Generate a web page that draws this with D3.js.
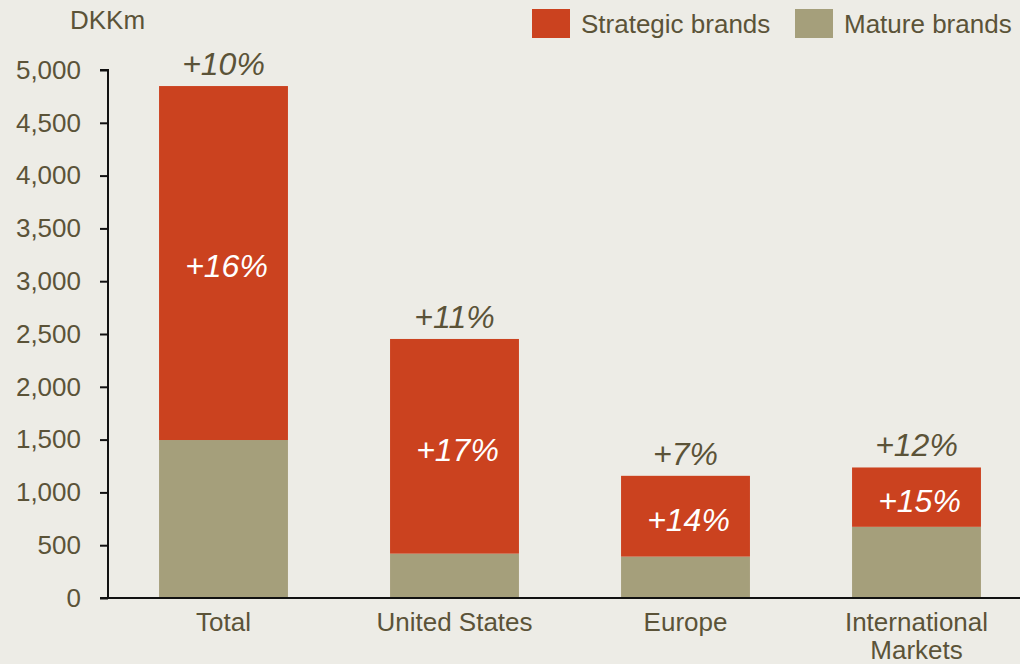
<!DOCTYPE html>
<html>
<head>
<meta charset="utf-8">
<script src="https://cdn.jsdelivr.net/npm/d3@7"></script>
<style>
  body { margin: 0; background: #edece6; }
  svg { display: block; font-family: "Liberation Sans", Arial, sans-serif; }
</style>
</head>
<body>
<svg id="chart" width="1020" height="664"></svg>
<script>
// sales by region, DKKm
const regions = ['Total', 'United States', 'Europe', 'International Markets']
const mature = [1496, 420, 392, 674]
const strategic = [3352, 2033, 765, 562]   // stacked on top of mature
const totalGrowth = ['+10%', '+11%', '+7%', '+12%']
const strategicGrowth = ['+16%', '+17%', '+14%', '+15%']
const yTicks = [0, 500, 1000, 1500, 2000, 2500, 3000, 3500, 4000, 4500, 5000]

const textCol = '#5b5338',
    redCol = '#cb421f',
    greyCol = '#a59f7b'

let svg = d3.select('#chart')

let x = d3.scaleBand().domain(regions).range([108, 1032])
        .paddingInner(0.442).paddingOuter(0.221),
    y = d3.scaleLinear().domain([0, 5000]).range([598, 70])

let rows = regions.map((r, i) => ({
    name: r, mature: mature[i], strategic: strategic[i],
    g1: totalGrowth[i], g2: strategicGrowth[i]
}))

// bars
let g = svg.append('g')
g.selectAll('rect.mature')
    .data(rows)
    .join('rect')
    .attr('class', 'mature')
    .attr('x', d => x(d.name))
    .attr('width', x.bandwidth())
    .attr('y', d => y(d.mature))
    .attr('height', d => y(0) - y(d.mature))
    .attr('fill', greyCol)

g.selectAll('rect.strategic')
    .data(rows)
    .join('rect')
    .attr('class', 'strategic')
    .attr('x', d => x(d.name))
    .attr('width', x.bandwidth())
    .attr('y', d => y(d.mature + d.strategic))
    .attr('height', d => y(d.mature) - y(d.mature + d.strategic))
    .attr('fill', redCol)

// growth labels
g.selectAll('text.total')
    .data(rows)
    .join('text')
    .attr('x', d => x(d.name) + x.bandwidth() / 2)
    .attr('y', d => y(d.mature + d.strategic) - 11)
    .attr('text-anchor', 'middle')
    .style('font-size', '32px')
    .style('font-style', 'italic')
    .style('fill', textCol)
    .text(d => d.g1)

g.selectAll('text.inner')
    .data(rows)
    .join('text')
    .attr('x', d => x(d.name) + x.bandwidth() / 2 + 3)
    .attr('y', d => (y(d.mature) + y(d.mature + d.strategic)) / 2)
    .attr('dy', '0.45em')
    .attr('text-anchor', 'middle')
    .style('font-size', '32px')
    .style('font-style', 'italic')
    .style('fill', '#fff')
    .text(d => d.g2)

// y axis
let yAxis = svg.append('g')
    .attr('transform', 'translate(108,0)')
    .call(d3.axisLeft(y).tickValues(yTicks).tickSize(8).tickPadding(19)
        .tickFormat(d3.format(',')))
yAxis.select('.domain').attr('d', `M-8,${y(5000)}H0V${y(0)}`)
    .attr('stroke', '#111').attr('stroke-width', 2)
yAxis.selectAll('.tick line').attr('stroke', '#111').attr('stroke-width', 2)
yAxis.selectAll('.tick text')
    .style('font-size', '26px')
    .style('fill', textCol)
    .style('font-family', '"Liberation Sans", Arial, sans-serif')

// x baseline
svg.append('line')
    .attr('x1', 100).attr('x2', 1020)
    .attr('y1', y(0)).attr('y2', y(0))
    .attr('stroke', '#111').attr('stroke-width', 2)

// category labels
svg.append('g').selectAll('text')
    .data(rows)
    .join('text')
    .attr('x', d => x(d.name) + x.bandwidth() / 2)
    .attr('y', 631)
    .attr('text-anchor', 'middle')
    .style('font-size', '26px')
    .style('fill', textCol)
    .each(function (d) {
        let words = d.name == 'International Markets' ? ['International', 'Markets'] : [d.name]
        d3.select(this).selectAll('tspan')
            .data(words)
            .join('tspan')
            .attr('x', x(d.name) + x.bandwidth() / 2)
            .attr('dy', (w, i) => i ? 28 : 0)
            .text(w => w)
    })

// unit label
svg.append('text')
    .attr('x', 70).attr('y', 29)
    .style('font-size', '26px')
    .style('fill', textCol)
    .text('DKKm')

// legend
let legend = [['Strategic brands', redCol, 532], ['Mature brands', greyCol, 795]]
let lg = svg.append('g').selectAll('g')
    .data(legend)
    .join('g')
    .attr('transform', d => `translate(${d[2]},9)`)
lg.append('rect').attr('width', 38).attr('height', 29).attr('fill', d => d[1])
lg.append('text').attr('x', 49).attr('y', 24)
    .style('font-size', '26px')
    .style('fill', textCol)
    .text(d => d[0])
</script>
</body>
</html>
